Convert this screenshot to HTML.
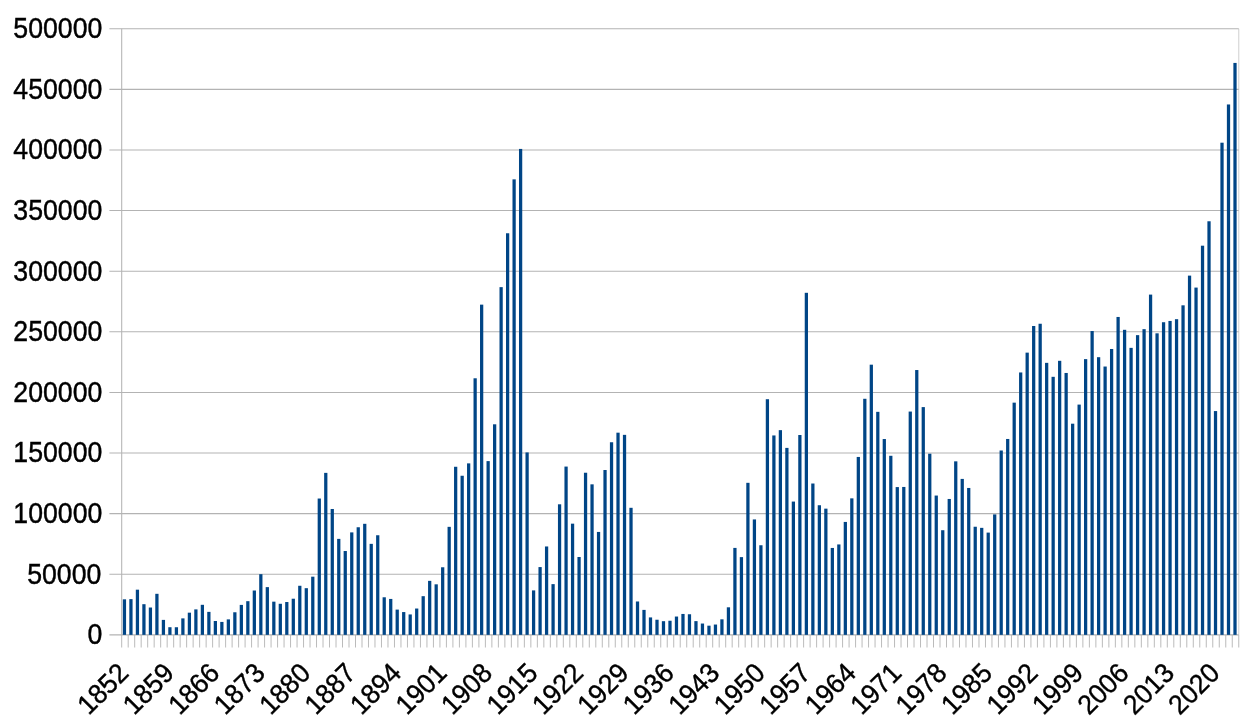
<!DOCTYPE html>
<html lang="en"><head><meta charset="utf-8"><title>Chart</title>
<style>html,body{margin:0;padding:0;background:#fff}body{width:1256px;height:723px;overflow:hidden}</style></head>
<body>
<svg width="1256" height="723" viewBox="0 0 1256 723" style="display:block">
<rect width="1256" height="723" fill="#fff"/>
<g stroke="#b3b3b3" stroke-width="1.05" fill="none">
<line x1="109.4" y1="634.85" x2="1238.75" y2="634.85"/>
<line x1="109.4" y1="574.24" x2="1238.75" y2="574.24"/>
<line x1="109.4" y1="513.63" x2="1238.75" y2="513.63"/>
<line x1="109.4" y1="453.02" x2="1238.75" y2="453.02"/>
<line x1="109.4" y1="392.41" x2="1238.75" y2="392.41"/>
<line x1="109.4" y1="331.80" x2="1238.75" y2="331.80"/>
<line x1="109.4" y1="271.19" x2="1238.75" y2="271.19"/>
<line x1="109.4" y1="210.58" x2="1238.75" y2="210.58"/>
<line x1="109.4" y1="149.97" x2="1238.75" y2="149.97"/>
<line x1="109.4" y1="89.36" x2="1238.75" y2="89.36"/>
<line x1="109.4" y1="28.75" x2="1238.75" y2="28.75"/>
<line x1="121.7" y1="28.75" x2="121.7" y2="634.85"/>
<line x1="1238.75" y1="28.75" x2="1238.75" y2="634.85" stroke-opacity="0.6"/>
<path d="M121.70 634.85V647.5M128.19 634.85V647.5M134.69 634.85V647.5M141.18 634.85V647.5M147.68 634.85V647.5M154.17 634.85V647.5M160.67 634.85V647.5M167.16 634.85V647.5M173.66 634.85V647.5M180.15 634.85V647.5M186.64 634.85V647.5M193.14 634.85V647.5M199.63 634.85V647.5M206.13 634.85V647.5M212.62 634.85V647.5M219.12 634.85V647.5M225.61 634.85V647.5M232.11 634.85V647.5M238.60 634.85V647.5M245.10 634.85V647.5M251.59 634.85V647.5M258.08 634.85V647.5M264.58 634.85V647.5M271.07 634.85V647.5M277.57 634.85V647.5M284.06 634.85V647.5M290.56 634.85V647.5M297.05 634.85V647.5M303.55 634.85V647.5M310.04 634.85V647.5M316.53 634.85V647.5M323.03 634.85V647.5M329.52 634.85V647.5M336.02 634.85V647.5M342.51 634.85V647.5M349.01 634.85V647.5M355.50 634.85V647.5M362.00 634.85V647.5M368.49 634.85V647.5M374.98 634.85V647.5M381.48 634.85V647.5M387.97 634.85V647.5M394.47 634.85V647.5M400.96 634.85V647.5M407.46 634.85V647.5M413.95 634.85V647.5M420.45 634.85V647.5M426.94 634.85V647.5M433.43 634.85V647.5M439.93 634.85V647.5M446.42 634.85V647.5M452.92 634.85V647.5M459.41 634.85V647.5M465.91 634.85V647.5M472.40 634.85V647.5M478.90 634.85V647.5M485.39 634.85V647.5M491.89 634.85V647.5M498.38 634.85V647.5M504.87 634.85V647.5M511.37 634.85V647.5M517.86 634.85V647.5M524.36 634.85V647.5M530.85 634.85V647.5M537.35 634.85V647.5M543.84 634.85V647.5M550.34 634.85V647.5M556.83 634.85V647.5M563.32 634.85V647.5M569.82 634.85V647.5M576.31 634.85V647.5M582.81 634.85V647.5M589.30 634.85V647.5M595.80 634.85V647.5M602.29 634.85V647.5M608.79 634.85V647.5M615.28 634.85V647.5M621.77 634.85V647.5M628.27 634.85V647.5M634.76 634.85V647.5M641.26 634.85V647.5M647.75 634.85V647.5M654.25 634.85V647.5M660.74 634.85V647.5M667.24 634.85V647.5M673.73 634.85V647.5M680.23 634.85V647.5M686.72 634.85V647.5M693.21 634.85V647.5M699.71 634.85V647.5M706.20 634.85V647.5M712.70 634.85V647.5M719.19 634.85V647.5M725.69 634.85V647.5M732.18 634.85V647.5M738.68 634.85V647.5M745.17 634.85V647.5M751.66 634.85V647.5M758.16 634.85V647.5M764.65 634.85V647.5M771.15 634.85V647.5M777.64 634.85V647.5M784.14 634.85V647.5M790.63 634.85V647.5M797.13 634.85V647.5M803.62 634.85V647.5M810.11 634.85V647.5M816.61 634.85V647.5M823.10 634.85V647.5M829.60 634.85V647.5M836.09 634.85V647.5M842.59 634.85V647.5M849.08 634.85V647.5M855.58 634.85V647.5M862.07 634.85V647.5M868.56 634.85V647.5M875.06 634.85V647.5M881.55 634.85V647.5M888.05 634.85V647.5M894.54 634.85V647.5M901.04 634.85V647.5M907.53 634.85V647.5M914.03 634.85V647.5M920.52 634.85V647.5M927.02 634.85V647.5M933.51 634.85V647.5M940.00 634.85V647.5M946.50 634.85V647.5M952.99 634.85V647.5M959.49 634.85V647.5M965.98 634.85V647.5M972.48 634.85V647.5M978.97 634.85V647.5M985.47 634.85V647.5M991.96 634.85V647.5M998.45 634.85V647.5M1004.95 634.85V647.5M1011.44 634.85V647.5M1017.94 634.85V647.5M1024.43 634.85V647.5M1030.93 634.85V647.5M1037.42 634.85V647.5M1043.92 634.85V647.5M1050.41 634.85V647.5M1056.90 634.85V647.5M1063.40 634.85V647.5M1069.89 634.85V647.5M1076.39 634.85V647.5M1082.88 634.85V647.5M1089.38 634.85V647.5M1095.87 634.85V647.5M1102.37 634.85V647.5M1108.86 634.85V647.5M1115.35 634.85V647.5M1121.85 634.85V647.5M1128.34 634.85V647.5M1134.84 634.85V647.5M1141.33 634.85V647.5M1147.83 634.85V647.5M1154.32 634.85V647.5M1160.82 634.85V647.5M1167.31 634.85V647.5M1173.81 634.85V647.5M1180.30 634.85V647.5M1186.79 634.85V647.5M1193.29 634.85V647.5M1199.78 634.85V647.5M1206.28 634.85V647.5M1212.77 634.85V647.5M1219.27 634.85V647.5M1225.76 634.85V647.5M1232.26 634.85V647.5M1238.75 634.85V647.5" stroke-width="0.9"/>
</g>
<g fill="#004586">
<rect x="122.82" y="599.32" width="3.25" height="35.53"/>
<rect x="129.32" y="599.13" width="3.25" height="35.72"/>
<rect x="135.81" y="589.68" width="3.25" height="45.17"/>
<rect x="142.31" y="604.19" width="3.25" height="30.66"/>
<rect x="148.80" y="607.52" width="3.25" height="27.33"/>
<rect x="155.29" y="593.81" width="3.25" height="41.04"/>
<rect x="161.79" y="619.89" width="3.25" height="14.96"/>
<rect x="168.28" y="627.21" width="3.25" height="7.64"/>
<rect x="174.78" y="627.24" width="3.25" height="7.61"/>
<rect x="181.27" y="618.38" width="3.25" height="16.47"/>
<rect x="187.77" y="612.67" width="3.25" height="22.18"/>
<rect x="194.26" y="609.39" width="3.25" height="25.46"/>
<rect x="200.76" y="604.81" width="3.25" height="30.04"/>
<rect x="207.25" y="611.87" width="3.25" height="22.98"/>
<rect x="213.74" y="621.00" width="3.25" height="13.85"/>
<rect x="220.24" y="621.92" width="3.25" height="12.93"/>
<rect x="226.73" y="619.38" width="3.25" height="15.47"/>
<rect x="233.23" y="612.27" width="3.25" height="22.58"/>
<rect x="239.72" y="604.90" width="3.25" height="29.95"/>
<rect x="246.22" y="601.18" width="3.25" height="33.67"/>
<rect x="252.71" y="590.51" width="3.25" height="44.34"/>
<rect x="259.21" y="574.18" width="3.25" height="60.67"/>
<rect x="265.70" y="587.12" width="3.25" height="47.73"/>
<rect x="272.20" y="601.66" width="3.25" height="33.19"/>
<rect x="278.69" y="603.78" width="3.25" height="31.07"/>
<rect x="285.18" y="602.02" width="3.25" height="32.83"/>
<rect x="291.68" y="598.72" width="3.25" height="36.13"/>
<rect x="298.17" y="585.77" width="3.25" height="49.08"/>
<rect x="304.67" y="588.17" width="3.25" height="46.68"/>
<rect x="311.16" y="576.68" width="3.25" height="58.17"/>
<rect x="317.66" y="498.53" width="3.25" height="136.32"/>
<rect x="324.15" y="472.87" width="3.25" height="161.98"/>
<rect x="330.65" y="508.99" width="3.25" height="125.86"/>
<rect x="337.14" y="538.88" width="3.25" height="95.97"/>
<rect x="343.63" y="551.02" width="3.25" height="83.83"/>
<rect x="350.13" y="532.39" width="3.25" height="102.46"/>
<rect x="356.62" y="527.25" width="3.25" height="107.60"/>
<rect x="363.12" y="523.81" width="3.25" height="111.04"/>
<rect x="369.61" y="543.85" width="3.25" height="91.00"/>
<rect x="376.11" y="535.25" width="3.25" height="99.60"/>
<rect x="382.60" y="597.28" width="3.25" height="37.57"/>
<rect x="389.10" y="598.93" width="3.25" height="35.92"/>
<rect x="395.59" y="609.60" width="3.25" height="25.25"/>
<rect x="402.08" y="612.07" width="3.25" height="22.78"/>
<rect x="408.58" y="614.44" width="3.25" height="20.41"/>
<rect x="415.07" y="608.53" width="3.25" height="26.32"/>
<rect x="421.57" y="596.18" width="3.25" height="38.67"/>
<rect x="428.06" y="580.85" width="3.25" height="54.00"/>
<rect x="434.56" y="584.32" width="3.25" height="50.53"/>
<rect x="441.05" y="567.27" width="3.25" height="67.58"/>
<rect x="447.55" y="526.84" width="3.25" height="108.01"/>
<rect x="454.04" y="466.77" width="3.25" height="168.08"/>
<rect x="460.54" y="475.75" width="3.25" height="159.10"/>
<rect x="467.03" y="463.37" width="3.25" height="171.48"/>
<rect x="473.52" y="378.28" width="3.25" height="256.57"/>
<rect x="480.02" y="304.64" width="3.25" height="330.21"/>
<rect x="486.51" y="461.11" width="3.25" height="173.74"/>
<rect x="493.01" y="424.30" width="3.25" height="210.55"/>
<rect x="499.50" y="287.14" width="3.25" height="347.71"/>
<rect x="506.00" y="233.26" width="3.25" height="401.59"/>
<rect x="512.49" y="179.36" width="3.25" height="455.49"/>
<rect x="518.99" y="148.92" width="3.25" height="485.93"/>
<rect x="525.48" y="452.43" width="3.25" height="182.42"/>
<rect x="531.97" y="590.40" width="3.25" height="44.45"/>
<rect x="538.47" y="567.07" width="3.25" height="67.78"/>
<rect x="544.96" y="546.47" width="3.25" height="88.38"/>
<rect x="551.46" y="584.13" width="3.25" height="50.72"/>
<rect x="557.95" y="504.30" width="3.25" height="130.55"/>
<rect x="564.45" y="466.57" width="3.25" height="168.28"/>
<rect x="570.94" y="523.66" width="3.25" height="111.19"/>
<rect x="577.44" y="557.00" width="3.25" height="77.85"/>
<rect x="583.93" y="472.74" width="3.25" height="162.11"/>
<rect x="590.42" y="484.34" width="3.25" height="150.51"/>
<rect x="596.92" y="531.93" width="3.25" height="102.92"/>
<rect x="603.41" y="470.01" width="3.25" height="164.84"/>
<rect x="609.91" y="442.25" width="3.25" height="192.60"/>
<rect x="616.40" y="432.68" width="3.25" height="202.17"/>
<rect x="622.90" y="434.85" width="3.25" height="200.00"/>
<rect x="629.39" y="507.80" width="3.25" height="127.05"/>
<rect x="635.89" y="601.48" width="3.25" height="33.37"/>
<rect x="642.38" y="609.89" width="3.25" height="24.96"/>
<rect x="648.87" y="617.42" width="3.25" height="17.43"/>
<rect x="655.37" y="619.73" width="3.25" height="15.12"/>
<rect x="661.86" y="621.18" width="3.25" height="13.67"/>
<rect x="668.36" y="620.74" width="3.25" height="14.11"/>
<rect x="674.85" y="616.54" width="3.25" height="18.31"/>
<rect x="681.35" y="613.95" width="3.25" height="20.90"/>
<rect x="687.84" y="614.25" width="3.25" height="20.60"/>
<rect x="694.34" y="621.12" width="3.25" height="13.73"/>
<rect x="700.83" y="623.54" width="3.25" height="11.31"/>
<rect x="707.33" y="625.67" width="3.25" height="9.18"/>
<rect x="713.82" y="624.54" width="3.25" height="10.31"/>
<rect x="720.31" y="619.33" width="3.25" height="15.52"/>
<rect x="726.81" y="607.31" width="3.25" height="27.54"/>
<rect x="733.30" y="547.91" width="3.25" height="86.94"/>
<rect x="739.80" y="557.12" width="3.25" height="77.73"/>
<rect x="746.29" y="482.82" width="3.25" height="152.03"/>
<rect x="752.79" y="519.43" width="3.25" height="115.42"/>
<rect x="759.28" y="545.25" width="3.25" height="89.60"/>
<rect x="765.78" y="399.21" width="3.25" height="235.64"/>
<rect x="772.27" y="435.45" width="3.25" height="199.40"/>
<rect x="778.76" y="430.15" width="3.25" height="204.70"/>
<rect x="785.26" y="447.90" width="3.25" height="186.95"/>
<rect x="791.75" y="501.57" width="3.25" height="133.28"/>
<rect x="798.25" y="435.01" width="3.25" height="199.84"/>
<rect x="804.74" y="292.81" width="3.25" height="342.04"/>
<rect x="811.24" y="483.51" width="3.25" height="151.34"/>
<rect x="817.73" y="505.23" width="3.25" height="129.62"/>
<rect x="824.23" y="508.65" width="3.25" height="126.20"/>
<rect x="830.72" y="547.95" width="3.25" height="86.90"/>
<rect x="837.21" y="544.44" width="3.25" height="90.41"/>
<rect x="843.71" y="521.93" width="3.25" height="112.92"/>
<rect x="850.20" y="498.35" width="3.25" height="136.50"/>
<rect x="856.70" y="456.95" width="3.25" height="177.90"/>
<rect x="863.19" y="398.78" width="3.25" height="236.07"/>
<rect x="869.69" y="364.68" width="3.25" height="270.17"/>
<rect x="876.18" y="411.84" width="3.25" height="223.01"/>
<rect x="882.68" y="439.04" width="3.25" height="195.81"/>
<rect x="889.17" y="455.79" width="3.25" height="179.06"/>
<rect x="895.66" y="487.08" width="3.25" height="147.77"/>
<rect x="902.16" y="486.95" width="3.25" height="147.90"/>
<rect x="908.65" y="411.56" width="3.25" height="223.29"/>
<rect x="915.15" y="370.03" width="3.25" height="264.82"/>
<rect x="921.64" y="407.10" width="3.25" height="227.75"/>
<rect x="928.14" y="453.71" width="3.25" height="181.14"/>
<rect x="934.63" y="495.55" width="3.25" height="139.30"/>
<rect x="941.13" y="530.22" width="3.25" height="104.63"/>
<rect x="947.62" y="498.97" width="3.25" height="135.88"/>
<rect x="954.12" y="461.34" width="3.25" height="173.51"/>
<rect x="960.61" y="478.91" width="3.25" height="155.94"/>
<rect x="967.10" y="487.96" width="3.25" height="146.89"/>
<rect x="973.60" y="526.74" width="3.25" height="108.11"/>
<rect x="980.09" y="527.85" width="3.25" height="107.00"/>
<rect x="986.59" y="532.60" width="3.25" height="102.25"/>
<rect x="993.08" y="514.41" width="3.25" height="120.44"/>
<rect x="999.58" y="450.50" width="3.25" height="184.35"/>
<rect x="1006.07" y="438.97" width="3.25" height="195.88"/>
<rect x="1012.57" y="402.65" width="3.25" height="232.20"/>
<rect x="1019.06" y="372.46" width="3.25" height="262.39"/>
<rect x="1025.55" y="352.64" width="3.25" height="282.21"/>
<rect x="1032.05" y="325.99" width="3.25" height="308.86"/>
<rect x="1038.54" y="323.75" width="3.25" height="311.10"/>
<rect x="1045.04" y="362.85" width="3.25" height="272.00"/>
<rect x="1051.53" y="376.82" width="3.25" height="258.03"/>
<rect x="1058.03" y="360.81" width="3.25" height="274.04"/>
<rect x="1064.52" y="372.97" width="3.25" height="261.88"/>
<rect x="1071.02" y="423.69" width="3.25" height="211.16"/>
<rect x="1077.51" y="404.59" width="3.25" height="230.26"/>
<rect x="1084.00" y="359.13" width="3.25" height="275.72"/>
<rect x="1090.50" y="331.03" width="3.25" height="303.82"/>
<rect x="1096.99" y="357.20" width="3.25" height="277.65"/>
<rect x="1103.49" y="366.53" width="3.25" height="268.32"/>
<rect x="1109.98" y="348.99" width="3.25" height="285.86"/>
<rect x="1116.48" y="316.96" width="3.25" height="317.89"/>
<rect x="1122.97" y="329.81" width="3.25" height="305.04"/>
<rect x="1129.47" y="347.86" width="3.25" height="286.99"/>
<rect x="1135.96" y="335.14" width="3.25" height="299.71"/>
<rect x="1142.46" y="329.16" width="3.25" height="305.69"/>
<rect x="1148.95" y="294.60" width="3.25" height="340.25"/>
<rect x="1155.44" y="333.32" width="3.25" height="301.53"/>
<rect x="1161.94" y="322.23" width="3.25" height="312.62"/>
<rect x="1168.43" y="320.95" width="3.25" height="313.90"/>
<rect x="1174.93" y="319.19" width="3.25" height="315.66"/>
<rect x="1181.42" y="305.32" width="3.25" height="329.53"/>
<rect x="1187.92" y="275.62" width="3.25" height="359.23"/>
<rect x="1194.41" y="287.58" width="3.25" height="347.27"/>
<rect x="1200.91" y="245.69" width="3.25" height="389.16"/>
<rect x="1207.40" y="221.27" width="3.25" height="413.58"/>
<rect x="1213.89" y="411.07" width="3.25" height="223.78"/>
<rect x="1220.39" y="142.70" width="3.25" height="492.15"/>
<rect x="1226.88" y="104.47" width="3.25" height="530.38"/>
<rect x="1233.38" y="62.92" width="3.25" height="571.93"/>
</g>
<g font-family="'Liberation Sans', Arial, sans-serif" font-size="26.67" fill="#000" stroke="#000" stroke-width="0.4">
<text transform="translate(102.30 644.25) scale(1 1.106)" text-anchor="end">0</text>
<text transform="translate(101.30 583.64) scale(1 1.106)" text-anchor="end">50000</text>
<text transform="translate(102.30 523.03) scale(1 1.106)" text-anchor="end">100000</text>
<text transform="translate(102.30 462.42) scale(1 1.106)" text-anchor="end">150000</text>
<text transform="translate(102.30 401.81) scale(1 1.106)" text-anchor="end">200000</text>
<text transform="translate(102.30 341.20) scale(1 1.106)" text-anchor="end">250000</text>
<text transform="translate(102.30 280.59) scale(1 1.106)" text-anchor="end">300000</text>
<text transform="translate(102.30 219.98) scale(1 1.106)" text-anchor="end">350000</text>
<text transform="translate(102.30 159.37) scale(1 1.106)" text-anchor="end">400000</text>
<text transform="translate(102.30 98.76) scale(1 1.106)" text-anchor="end">450000</text>
<text transform="translate(102.30 38.15) scale(1 1.106)" text-anchor="end">500000</text>
<text transform="translate(130.15 674.70) rotate(-45) scale(1 1.05)" x="0" y="0" text-anchor="end" font-size="26.3">1852</text>
<text transform="translate(175.61 674.70) rotate(-45) scale(1 1.05)" x="0" y="0" text-anchor="end" font-size="26.3">1859</text>
<text transform="translate(221.07 674.70) rotate(-45) scale(1 1.05)" x="0" y="0" text-anchor="end" font-size="26.3">1866</text>
<text transform="translate(266.53 674.70) rotate(-45) scale(1 1.05)" x="0" y="0" text-anchor="end" font-size="26.3">1873</text>
<text transform="translate(311.99 674.70) rotate(-45) scale(1 1.05)" x="0" y="0" text-anchor="end" font-size="26.3">1880</text>
<text transform="translate(357.45 674.70) rotate(-45) scale(1 1.05)" x="0" y="0" text-anchor="end" font-size="26.3">1887</text>
<text transform="translate(402.92 674.70) rotate(-45) scale(1 1.05)" x="0" y="0" text-anchor="end" font-size="26.3">1894</text>
<text transform="translate(448.38 674.70) rotate(-45) scale(1 1.05)" x="0" y="0" text-anchor="end" font-size="26.3">1901</text>
<text transform="translate(493.84 674.70) rotate(-45) scale(1 1.05)" x="0" y="0" text-anchor="end" font-size="26.3">1908</text>
<text transform="translate(539.30 674.70) rotate(-45) scale(1 1.05)" x="0" y="0" text-anchor="end" font-size="26.3">1915</text>
<text transform="translate(584.76 674.70) rotate(-45) scale(1 1.05)" x="0" y="0" text-anchor="end" font-size="26.3">1922</text>
<text transform="translate(630.22 674.70) rotate(-45) scale(1 1.05)" x="0" y="0" text-anchor="end" font-size="26.3">1929</text>
<text transform="translate(675.68 674.70) rotate(-45) scale(1 1.05)" x="0" y="0" text-anchor="end" font-size="26.3">1936</text>
<text transform="translate(721.14 674.70) rotate(-45) scale(1 1.05)" x="0" y="0" text-anchor="end" font-size="26.3">1943</text>
<text transform="translate(766.61 674.70) rotate(-45) scale(1 1.05)" x="0" y="0" text-anchor="end" font-size="26.3">1950</text>
<text transform="translate(812.07 674.70) rotate(-45) scale(1 1.05)" x="0" y="0" text-anchor="end" font-size="26.3">1957</text>
<text transform="translate(857.53 674.70) rotate(-45) scale(1 1.05)" x="0" y="0" text-anchor="end" font-size="26.3">1964</text>
<text transform="translate(902.99 674.70) rotate(-45) scale(1 1.05)" x="0" y="0" text-anchor="end" font-size="26.3">1971</text>
<text transform="translate(948.45 674.70) rotate(-45) scale(1 1.05)" x="0" y="0" text-anchor="end" font-size="26.3">1978</text>
<text transform="translate(993.91 674.70) rotate(-45) scale(1 1.05)" x="0" y="0" text-anchor="end" font-size="26.3">1985</text>
<text transform="translate(1039.37 674.70) rotate(-45) scale(1 1.05)" x="0" y="0" text-anchor="end" font-size="26.3">1992</text>
<text transform="translate(1084.84 674.70) rotate(-45) scale(1 1.05)" x="0" y="0" text-anchor="end" font-size="26.3">1999</text>
<text transform="translate(1130.30 674.70) rotate(-45) scale(1 1.05)" x="0" y="0" text-anchor="end" font-size="26.3">2006</text>
<text transform="translate(1175.76 674.70) rotate(-45) scale(1 1.05)" x="0" y="0" text-anchor="end" font-size="26.3">2013</text>
<text transform="translate(1221.22 674.70) rotate(-45) scale(1 1.05)" x="0" y="0" text-anchor="end" font-size="26.3">2020</text>
</g>
</svg>
</body></html>
